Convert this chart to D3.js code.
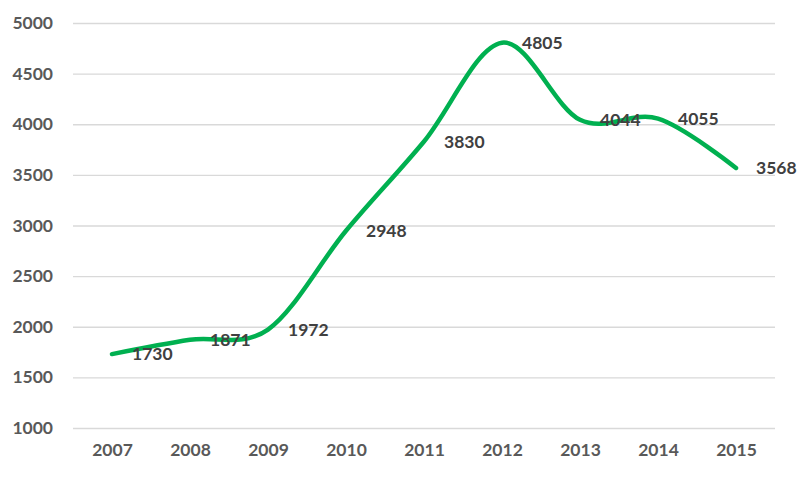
<!DOCTYPE html>
<html><head><meta charset="utf-8">
<script src="https://cdn.jsdelivr.net/npm/d3@7"></script>
<style>body{margin:0;background:#fff}svg{display:block}</style>
</head><body>
<svg id="c" width="799" height="479"></svg>
<script>
const years = ["2007","2008","2009","2010","2011","2012","2013","2014","2015"];
const values = [1730,1871,1972,2948,3830,4805,4044,4055,3568];
const yTicks = [1000,1500,2000,2500,3000,3500,4000,4500,5000];

(function(){
const svg = d3.select("#c");
const mLeft = 73, mRight = 775, mTop = 23, mBottom = 428;
const x = d3.scalePoint().domain(years).range([mLeft, mRight]).padding(0.5);
const y = d3.scaleLinear().domain([1000,5000]).range([mBottom, mTop]);
const font = "Lato, 'Open Sans', sans-serif";
const fs = "17.5px";

const gy = svg.append("g").attr("transform", `translate(${mLeft},0)`)
  .call(d3.axisLeft(y).tickValues(yTicks).tickFormat(d3.format("d")).tickSize(-(mRight-mLeft)).tickPadding(20));
gy.select(".domain").remove();
gy.selectAll(".tick line").attr("stroke","#d9d9d9").attr("stroke-width",1.3);
gy.selectAll(".tick text").attr("fill","#595959").style("font-family",font)
  .style("font-size",fs).style("font-weight","bold");

const gx = svg.append("g").attr("transform", `translate(0,${mBottom})`)
  .call(d3.axisBottom(x).tickSize(0).tickPadding(16));
gx.select(".domain").remove();
gx.selectAll(".tick text").attr("fill","#595959").style("font-family",font)
  .style("font-size",fs).style("font-weight","bold");

const data = years.map((yr,i)=>({yr, v: values[i]}));
const line = d3.line().x(d=>x(d.yr)).y(d=>y(d.v)).curve(d3.curveCatmullRom.alpha(0));
svg.append("path").datum(data).attr("d", line).attr("fill","none")
  .attr("stroke","#00b050").attr("stroke-width",4.5).attr("stroke-linecap","round");

svg.append("g").selectAll("text").data(data).join("text")
  .attr("x", d=>x(d.yr)+20).attr("y", d=>y(d.v)).attr("dy","0.35em")
  .attr("fill","#404040").style("font-family",font).style("font-size",fs)
  .style("font-weight","bold").text(d=>d.v);
})();
</script>
</body></html>
